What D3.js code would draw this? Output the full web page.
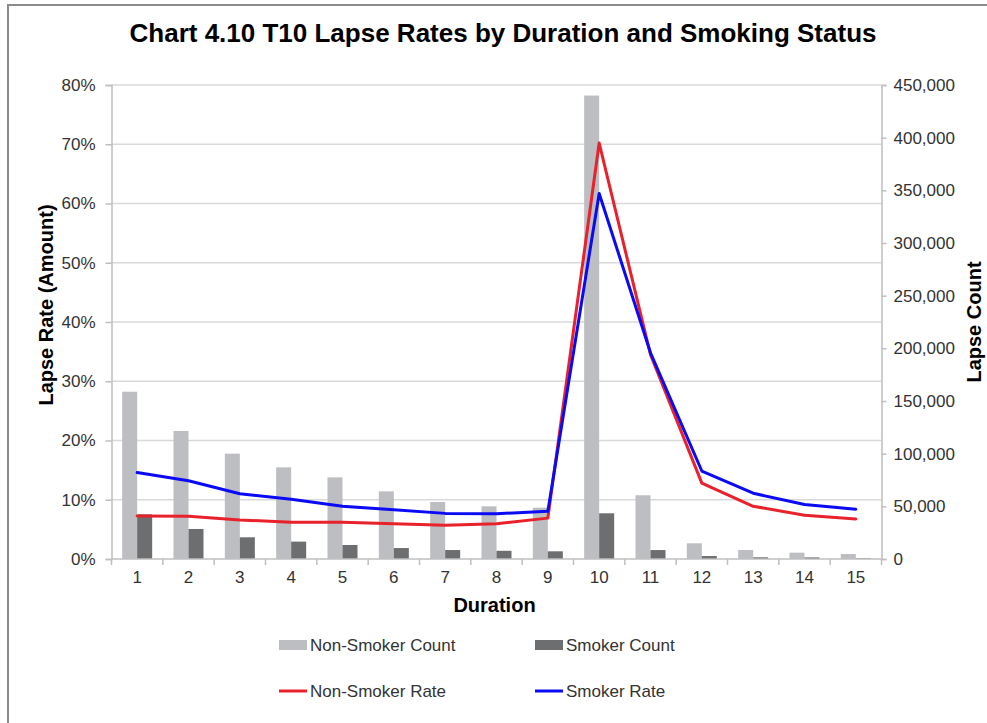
<!DOCTYPE html>
<html>
<head>
<meta charset="utf-8">
<script src="https://cdn.jsdelivr.net/npm/d3@7"></script>
<style>
  html, body { margin: 0; padding: 0; background: #fff; }
  svg { display: block; font-family: Arial, "Liberation Sans", sans-serif; }
</style>
</head>
<body>
<svg id="chart" width="987" height="723"></svg>
<script>
// Policy durations (years since issue)
const durations = [1, 2, 3, 4, 5, 6, 7, 8, 9, 10, 11, 12, 13, 14, 15];

// Lapse counts by duration
const nonSmokerCount = [158800, 121500, 100000, 87000, 77500, 64200, 54100, 50000, 48700, 440000, 60500, 14900, 8500, 6000, 4700];
const smokerCount    = [42400, 28500, 20600, 16500, 13300, 10400, 8500, 7800, 7300, 43400, 8500, 2800, 1600, 1500, 700];

// Lapse rates by amount (fractions)
const nonSmokerRate = [0.0726, 0.0722, 0.066, 0.062, 0.062, 0.0595, 0.057, 0.0595, 0.069, 0.702, 0.345, 0.128, 0.089, 0.074, 0.0675];
const smokerRate    = [0.146, 0.132, 0.110, 0.101, 0.089, 0.083, 0.077, 0.0765, 0.0805, 0.617, 0.348, 0.1485, 0.111, 0.092, 0.084];

// Axis ticks
const rateTicks  = [0, 0.1, 0.2, 0.3, 0.4, 0.5, 0.6, 0.7, 0.8];
const countTicks = [0, 50000, 100000, 150000, 200000, 250000, 300000, 350000, 400000, 450000];

const svg = d3.select("#chart");

// Outer frame of the chart area
svg.append("rect")
  .attr("x", 8).attr("y", 5)
  .attr("width", 1000).attr("height", 760)
  .attr("fill", "none").attr("stroke", "#8c8c8c").attr("stroke-width", 2);

const plotLeft = 111.5, plotRight = 881.5, plotTop = 85, plotBottom = 559;

const x = d3.scaleBand().domain(durations).range([plotLeft, plotRight]).padding(0);
const xSub = d3.scaleBand().domain(["ns", "s"]).range([0, x.bandwidth()]).paddingInner(0).paddingOuter(0.711);
const yRate = d3.scaleLinear().domain([0, 0.8]).range([plotBottom, plotTop]);
const yCount = d3.scaleLinear().domain([0, 450000]).range([plotBottom, plotTop]);

// Horizontal gridlines
svg.append("g").selectAll("line")
  .data(rateTicks.filter(d => d > 0))
  .join("line")
  .attr("x1", plotLeft).attr("x2", plotRight)
  .attr("y1", d => yRate(d)).attr("y2", d => yRate(d))
  .attr("stroke", "#d9d9d9").attr("stroke-width", 1.5);

// Count bars
const barData = durations.map((d, i) => [
  { dur: d, key: "ns", v: nonSmokerCount[i] },
  { dur: d, key: "s", v: smokerCount[i] }
]).flat();
const barColor = { ns: "#bdbec2", s: "#6d6e70" };

svg.append("g").selectAll("rect")
  .data(barData)
  .join("rect")
  .attr("x", d => x(d.dur) + xSub(d.key))
  .attr("width", xSub.bandwidth())
  .attr("y", d => yCount(d.v))
  .attr("height", d => plotBottom - yCount(d.v))
  .attr("fill", d => barColor[d.key]);

// Left axis (rate)
const axisColor = "#bfbfbf";
const leftAxis = svg.append("g")
  .attr("transform", `translate(${plotLeft},0)`)
  .call(d3.axisLeft(yRate).tickValues(rateTicks).tickFormat(d3.format(".0%")).tickSize(6).tickPadding(10));
// Right axis (count)
const rightAxis = svg.append("g")
  .attr("transform", `translate(${plotRight},0)`)
  .call(d3.axisRight(yCount).tickValues(countTicks).tickFormat(d3.format(",")).tickSize(5).tickPadding(7));
// Bottom axis (duration)
const bottomAxis = svg.append("g")
  .attr("transform", `translate(0,${plotBottom})`)
  .call(d3.axisBottom(x).tickSize(0).tickPadding(12));

[leftAxis, rightAxis, bottomAxis].forEach(g => {
  g.select(".domain").attr("stroke", axisColor).attr("stroke-width", 1.5);
  g.selectAll(".tick line").attr("stroke", axisColor).attr("stroke-width", 1.5);
  g.selectAll(".tick text").attr("fill", "#333").style("font-size", "17px")
    .style("font-family", "Arial, 'Liberation Sans', sans-serif");
});
bottomAxis.select(".domain").attr("d", `M${plotLeft},0H${plotRight}`);

// Category separators below the x-axis
svg.append("g").selectAll("line")
  .data(durations)
  .join("line")
  .attr("x1", d => x(d)).attr("x2", d => x(d))
  .attr("y1", plotBottom).attr("y2", plotBottom + 6)
  .attr("stroke", axisColor).attr("stroke-width", 1.5);
svg.append("line")
  .attr("x1", plotRight).attr("x2", plotRight)
  .attr("y1", plotBottom).attr("y2", plotBottom + 6)
  .attr("stroke", axisColor).attr("stroke-width", 1.5);

// Rate lines
const line = d3.line()
  .x((d, i) => x(durations[i]) + x.bandwidth() / 2)
  .y(d => yRate(d));

svg.append("path").datum(nonSmokerRate)
  .attr("d", line).attr("fill", "none")
  .attr("stroke", "#e8212b").attr("stroke-width", 3).attr("stroke-linejoin", "round").attr("stroke-linecap", "round");
svg.append("path").datum(smokerRate)
  .attr("d", line).attr("fill", "none")
  .attr("stroke", "#0a0af5").attr("stroke-width", 3).attr("stroke-linejoin", "round").attr("stroke-linecap", "round");

// Title
svg.append("text")
  .attr("x", 503).attr("y", 42)
  .attr("text-anchor", "middle")
  .style("font-size", "26px").style("font-weight", "bold").attr("fill", "#000")
  .text("Chart 4.10 T10 Lapse Rates by Duration and Smoking Status");

// Axis titles
svg.append("text")
  .attr("x", (plotLeft + plotRight) / 2 - 2).attr("y", 612)
  .attr("text-anchor", "middle")
  .style("font-size", "20px").style("font-weight", "bold").attr("fill", "#000")
  .text("Duration");

svg.append("text")
  .attr("transform", `translate(53,${(plotTop + plotBottom) / 2 - 17}) rotate(-90)`)
  .attr("text-anchor", "middle")
  .style("font-size", "20px").style("font-weight", "bold").attr("fill", "#000")
  .text("Lapse Rate (Amount)");

svg.append("text")
  .attr("transform", `translate(981,${(plotTop + plotBottom) / 2}) rotate(-90)`)
  .attr("text-anchor", "middle")
  .style("font-size", "20px").style("font-weight", "bold").attr("fill", "#000")
  .text("Lapse Count");

// Legend
const legendItems = [
  { label: "Non-Smoker Count", type: "bar", color: "#bdbec2", x: 279, y: 645 },
  { label: "Smoker Count", type: "bar", color: "#6d6e70", x: 535, y: 645 },
  { label: "Non-Smoker Rate", type: "line", color: "#e8212b", x: 279, y: 691 },
  { label: "Smoker Rate", type: "line", color: "#0a0af5", x: 535, y: 691 }
];
const lg = svg.append("g").selectAll("g").data(legendItems).join("g")
  .attr("transform", d => `translate(${d.x},${d.y})`);
lg.filter(d => d.type === "bar").append("rect")
  .attr("x", 0).attr("y", -5).attr("width", 28).attr("height", 10)
  .attr("fill", d => d.color);
lg.filter(d => d.type === "line").append("line")
  .attr("x1", 0).attr("x2", 28).attr("y1", 0).attr("y2", 0)
  .attr("stroke", d => d.color).attr("stroke-width", 3);
lg.append("text")
  .attr("x", 31).attr("y", 0).attr("dy", "0.35em")
  .style("font-size", "17px").attr("fill", "#333")
  .text(d => d.label);
</script>
</body>
</html>
